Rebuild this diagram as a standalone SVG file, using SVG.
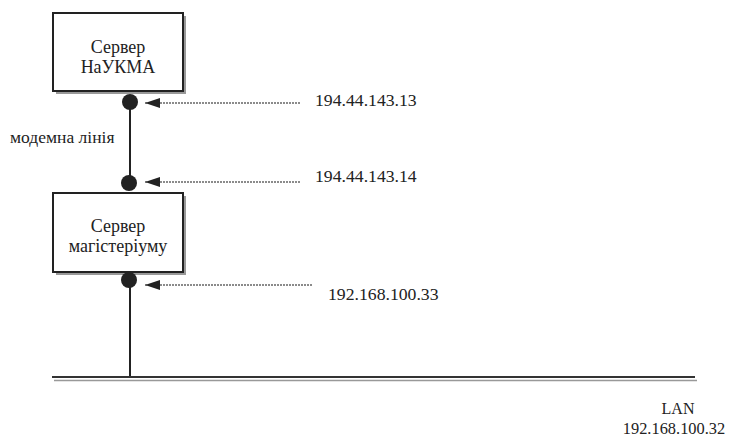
<svg xmlns="http://www.w3.org/2000/svg" width="735" height="437" viewBox="0 0 735 437">
<style>
text{font-family:"Liberation Serif","DejaVu Serif","Times New Roman",serif;fill:#222}
.box{fill:#fff;stroke:#222;stroke-width:2}
.shadow{fill:#999}
.wire{stroke:#222;stroke-width:2;fill:none}
.dash{stroke:#666;stroke-width:1.5;stroke-dasharray:2 1;fill:none}
.dot{fill:#222}
</style>
<defs>
<marker id="ah" markerWidth="16" markerHeight="12" refX="0" refY="6" orient="auto" markerUnits="userSpaceOnUse">
<path d="M0,6 L15,1 L15,11 Z" fill="#222"/>
</marker>
</defs>
<g id="connectors">
<line class="wire" x1="130" y1="100" x2="130" y2="183"/>
<line class="wire" x1="130" y1="280" x2="130" y2="377"/>
<line x1="52" y1="377" x2="695" y2="377" stroke="#333" stroke-width="2"/>
<line x1="54" y1="380.5" x2="697" y2="380.5" stroke="#999" stroke-width="1.5"/>
<line class="dash" x1="145" y1="103" x2="300" y2="103" marker-start="url(#ah)"/>
<line class="dash" x1="145" y1="182" x2="300" y2="182" marker-start="url(#ah)"/>
<line class="dash" x1="145" y1="285" x2="313" y2="285" marker-start="url(#ah)"/>
</g>
<g id="server-naukma">
<rect class="shadow" x="56" y="16" width="130" height="78"/>
<rect class="box" x="53" y="13" width="130" height="78"/>
<text x="118" y="53" font-size="18" text-anchor="middle">Сервер</text>
<text x="118" y="73" font-size="18" text-anchor="middle">НаУКМА</text>
</g>
<g id="server-magisterium">
<rect class="shadow" x="56" y="196" width="130" height="79"/>
<rect class="box" x="53" y="193" width="130" height="79"/>
<text x="118" y="232" font-size="18" text-anchor="middle">Сервер</text>
<text x="118" y="252" font-size="18" text-anchor="middle">магістеріуму</text>
</g>
<g id="port1"><circle class="dot" cx="130" cy="102" r="8"/></g>
<g id="port2"><circle class="dot" cx="129" cy="183" r="8"/></g>
<g id="port3"><circle class="dot" cx="129" cy="280" r="8"/></g>
<g id="labels">
<text x="10" y="143" font-size="17.5">модемна лінія</text>
<text x="315" y="106" font-size="17.7">194.44.143.13</text>
<text x="315" y="182" font-size="17.7">194.44.143.14</text>
<text x="328" y="300" font-size="17.7">192.168.100.33</text>
<text x="678" y="414" font-size="16" text-anchor="middle">LAN</text>
<text x="674" y="434" font-size="16.4" text-anchor="middle">192.168.100.32</text>
</g>
</svg>
